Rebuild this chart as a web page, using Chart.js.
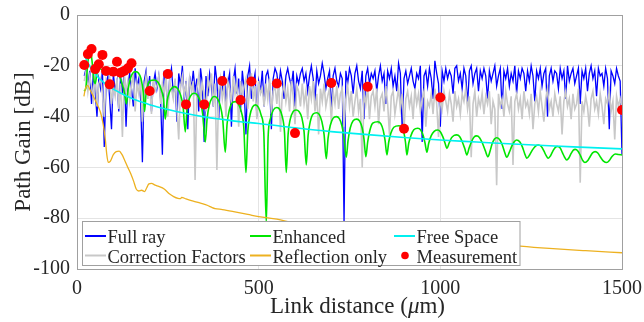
<!DOCTYPE html>
<html>
<head>
<meta charset="utf-8">
<script src="https://cdn.jsdelivr.net/npm/chart.js@4.4.1/dist/chart.umd.min.js"></script>
<style>
  html, body { margin: 0; padding: 0; background: #fff; }
  #wrap { width: 644px; height: 322px; }
</style>
</head>
<body>
<div id="wrap"><canvas id="pathGainChart" width="644" height="322"></canvas></div>
<script>
const serif = "'Liberation Serif', serif";

// Full ray / correction factors are sampled every 5 um starting at 20 um
const noiseStart = 20;
const noiseStep = 5;

const fullRay = [
  -24,-21,-28,-22,-35,-23,-30,-40,-25,-29,-22,-52,-27,-24,-33,-45,-23,-30,-26,-38,
  -24,-31,-22,-44,-27,-23,-29,-36,-21,-28,-25,-33,-58,-26,-22,-30,-24,-38,-27,-23,
  -29,-24,-33,-55,-22,-27,-37,-25,-21,-31,-26,-42,-23,-28,-20,-34,-26,-45,-24,-29,
  -22,-30,-25,-38,-21,-27,-50,-24,-32,-23,-28,-36,-20,-26,-41,-24,-30,-22,-35,-27,
  -23,-44,-26,-21,-31,-25,-38,-22,-29,-47,-24,-20,-33,-27,-23,-40,-26,-30,-22,-36,
  -24,-22,-27,-45,-25,-21,-23,-29,-22,-26,-33,-24,-21,-25,-28,-22,-36,-24,-27,-23,
  -21,-26,-23,-30,-24,-20,-25,-34,-22,-27,-24,-19,-23,-29,-25,-22,-38,-24,-21,-26,
  -28,-23,-25,-82,-22,-27,-21,-24,-31,-23,-20,-26,-29,-22,-41,-24,-21,-27,-23,-25,
  -22,-30,-24,-20,-26,-23,-35,-22,-25,-21,-28,-24,-30,-19,-23,-45,-25,-22,-27,-24,
  -21,-26,-29,-23,-25,-20,-50,-24,-22,-28,-21,-25,-33,-18,-23,-27,-44,-22,-26,-21,
  -25,-22,-24,-31,-21,-20,-26,-23,-29,-21,-24,-35,-22,-20,-27,-23,-21,-30,-22,-25,
  -21,-24,-33,-22,-26,-23,-20,-28,-24,-21,-37,-22,-25,-21,-28,-23,-26,-20,-31,-22,
  -25,-21,-23,-30,-22,-26,-20,-24,-34,-22,-25,-21,-28,-23,-21,-40,-24,-21,-26,-22,
  -23,-29,-21,-25,-22,-33,-20,-26,-23,-21,-27,-24,-21,-35,-22,-25,-21,-30,-23,-20,
  -25,-22,-32,-21,-24,-23,-28,-21,-25,-45,-22,-24,-27,-21,-24,-26,-55
];

const correctionFactors = [
  -26,-22,-30,-24,-28,-33,-23,-36,-27,-25,-31,-40,-26,-29,-24,-35,-28,-32,-25,-37,
  -27,-48,-24,-30,-26,-34,-28,-23,-38,-27,-31,-25,-42,-29,-24,-33,-27,-39,-25,-30,
  -28,-24,-35,-27,-31,-23,-40,-26,-29,-33,-25,-37,-49,-28,-24,-32,-27,-36,-25,-30,
  -26,-65,-29,-24,-34,-27,-31,-38,-25,-29,-23,-36,-27,-61,-30,-25,-33,-28,-40,-26,
  -29,-35,-24,-31,-27,-44,-26,-32,-28,-25,-37,-30,-23,-34,-28,-41,-26,-31,-29,-36,
  -27,-33,-25,-39,-30,-28,-35,-26,-46,-31,-27,-34,-29,-38,-26,-32,-43,-28,-30,-36,
  -27,-35,-30,-41,-28,-33,-26,-38,-31,-47,-29,-34,-27,-36,-32,-29,-42,-30,-35,-28,
  -37,-31,-29,-44,-33,-28,-36,-30,-40,-34,-29,-38,-33,-60,-31,-35,-28,-41,-32,-30,
  -36,-29,-43,-33,-31,-38,-28,-35,-47,-32,-30,-39,-34,-29,-37,-31,-45,-33,-30,-36,
  -32,-41,-29,-35,-31,-38,-33,-30,-44,-34,-36,-31,-39,-29,-35,-48,-32,-37,-30,-34,
  -38,-31,-35,-42,-30,-36,-33,-39,-31,-34,-29,-37,-32,-56,-35,-30,-40,-33,-36,-31,
  -39,-32,-35,-30,-43,-34,-37,-67,-31,-36,-33,-40,-30,-35,-38,-32,-59,-34,-31,-37,
  -33,-41,-30,-36,-34,-39,-31,-45,-35,-32,-38,-30,-36,-42,-33,-29,-37,-34,-40,-31,
  -35,-38,-32,-47,-34,-30,-36,-33,-41,-31,-37,-35,-29,-66,-34,-38,-32,-36,-44,-33,
  -30,-37,-34,-39,-31,-36,-43,-33,-35,-30,-38,-34,-49,-32,-36,-33,-37
];

const enhancedX = [
  19,24,29,33,38,42,46,50,55,62,72,80,90,100,110,118,126,131,136,141,147,153,161,169,176,182,186,190,196,203,
  213,223,231,238,243,248,254,261,268,277,285,292,298,303,309,316,323,331,339,346,353,358,364,371,378,386,394,401,408,413,
  419,426,436,444,452,459,465,470,476,483,491,499,507,514,521,526,532,540,550,558,565,571,576,581,587,595,603,611,619,625,
  631,636,642,650,659,667,674,680,686,691,697,705,714,722,729,735,741,746,752,760,770,778,785,790,795,800,806,814,828,836,
  843,848,853,858,864,872,886,894,900,904,908,913,919,927,938,946,953,958,963,968,975,983,993,1000,1007,1013,1018,1024,1031,1038,
  1045,1053,1060,1067,1073,1079,1086,1093,1100,1108,1116,1124,1131,1137,1143,1149,1155,1163,1170,1177,1183,1190,1197,1204,1210,1219,1226,1232,1238,1246,
  1254,1262,1270,1278,1285,1291,1297,1303,1310,1316,1322,1330,1336,1342,1348,1354,1360,1366,1371,1379,1386,1392,1398,1406,1413,1419,1426,1434,1441,1449,
  1458,1465,1472,1481,1490,1500
];
const enhancedY = [
  -30,-29,-20,-15.5,-15,-19,-25,-27,-23,-21,-22,-22.5,-21.5,-21.5,-22.5,-24.5,-28,-31,-35,-29,-25,-23,-22.3,-22.8,-25,-30,-38,-31,-27,-25.8,
  -25.6,-26.5,-29,-33,-41,-34,-30.5,-28.8,-28.2,-29,-31.5,-36,-46,-37,-33,-31.2,-30.8,-31.5,-34,-39,-50,-41,-35.5,-32.8,-32.1,-32.8,-35.5,-41,-54,-43,
  -37.5,-34.8,-34.1,-35,-38,-44,-62,-46,-39.5,-36.3,-35.4,-36.3,-39.5,-46,-82,-48,-41,-37.5,-36.4,-37.2,-40,-46,-62,-47,-41,-38,-37.4,-38,-40.5,-46,
  -59,-47.5,-42,-39,-38.5,-39.2,-42,-47,-56.6,-48.5,-43.5,-40.6,-40,-40.8,-43.5,-48.5,-56,-49.5,-44.5,-41.6,-41,-41.8,-44.5,-49,-55.8,-50,-45.5,-42.6,-42,-42.8,
  -45.5,-49.5,-55.1,-50,-46.5,-44.2,-43.6,-44.3,-46.5,-50,-55.1,-50.5,-47.5,-45.2,-44.6,-45.3,-47.5,-50.5,-54,-50.5,-47.5,-45.8,-45.3,-46,-48,-50.5,-52.5,-50.5,-48.3,-47.4,
  -47.2,-47.8,-49.8,-52.5,-55.1,-52.5,-49.8,-48,-47.6,-48.3,-50.5,-53.5,-55.8,-53.5,-50.5,-48.8,-48.3,-49,-51,-54,-56,-54,-51.5,-49.8,-49.2,-50,-52,-54.5,-56.4,-55,
  -53,-51.6,-51.2,-51.8,-53.5,-55.3,-56.4,-55.5,-53.5,-52.2,-51.8,-52.4,-54.2,-56,-57.1,-56.2,-54.5,-53.2,-52.9,-53.6,-55.5,-57.3,-58.1,-57.3,-55.6,-54.3,-53.8,-54.4,-56,-57.5,
  -58.1,-57.3,-55.8,-54.7,-54.9,-55.1
];

const freeSpaceX = [20,25,30,40,50,60,70,80,92,100,125,150,175,200,250,300,350,400,450,500,600,700,800,900,1000,1100,1200,1300,1400,1500];
const freeSpaceY = [-15.5,-17.3,-18.8,-21.3,-23.2,-24.8,-26.1,-27.3,-28.5,-29.2,-31.1,-32.8,-34.1,-35.3,-37.2,-38.8,-40.1,-41.1,-42,-42.7,-44.4,-45.9,-47.1,-48.2,-49.2,-50,-50.8,-51.5,-52.1,-52.7];

const reflectionX = [19,24,30,36,45,55,65,72,78,82,86,92,100,108,116,124,132,140,148,156,163,170,178,186,192,198,205,215,225,240,
  255,266,278,285,288,300,320,340,360,372,380,400,431,470,500,550,596,650,700,800,900,1000,1100,1220,1300,1400,1500];
const reflectionY = [-32,-28.5,-27.8,-29.5,-32,-35,-38.5,-43,-49,-55,-58,-57.5,-55,-53.8,-53.6,-55,-57.5,-60,-62.5,-65.5,-68.5,-69.3,-69,-69.5,-68,-66.5,-66.3,-67,-67.5,-68.5,
  -70.5,-71.5,-72.2,-72.3,-71.8,-72.4,-73.3,-74.1,-75,-75.8,-76.2,-76.6,-77.4,-78.5,-79.4,-80.4,-81.8,-83,-84,-85.8,-87.2,-88.3,-89.3,-91,-91.9,-92.8,-93.6];

const measX = [20,30,40,50,60,70,80,90,100,110,120,130,140,150,200,250,300,350,400,450,480,550,600,700,800,900,1000,1500];
const measY = [-19.7,-15.4,-13.4,-21.3,-19.4,-15.7,-22,-27.3,-22.3,-18.4,-22.7,-22,-21,-19,-29.9,-23.2,-35.2,-35.2,-26,-33.5,-26.2,-27,-46.5,-26.8,-28.2,-44.8,-32.5,-37.4];

const xTicks = [0, 500, 1000, 1500];
const yTicks = [-100, -80, -60, -40, -20, 0];

const gridPts = vals => vals.map((v, i) => ({ x: noiseStart + noiseStep * i, y: v }));
const pairPts = (xs, ys) => xs.map((x, i) => ({ x, y: ys[i] }));

const legendRows = [
  { label: 'Full ray', color: '#0000ff', col: 0, row: 0 },
  { label: 'Correction Factors', color: '#c8c8c8', col: 0, row: 1 },
  { label: 'Enhanced', color: '#00e600', col: 1, row: 0 },
  { label: 'Reflection only', color: '#edb120', col: 1, row: 1 },
  { label: 'Free Space', color: '#00f0f0', col: 2, row: 0 },
  { label: 'Measurement', color: '#ff0000', col: 2, row: 1, dot: true }
];

Chart.defaults.font.family = serif;

const decorations = {
  id: 'decorations',
  afterDraw(chart) {
    const { ctx, chartArea: a } = chart;
    ctx.save();

    // axes box
    ctx.strokeStyle = '#a0a0a0';
    ctx.lineWidth = 1;
    ctx.strokeRect(Math.round(a.left) + 0.5, Math.round(a.top) + 0.5,
      Math.round(a.right - a.left), Math.round(a.bottom - a.top));

    ctx.fillStyle = '#262626';

    // y title
    ctx.save();
    ctx.font = `23px ${serif}`;
    ctx.translate(30, (a.top + a.bottom) / 2);
    ctx.rotate(-Math.PI / 2);
    ctx.textAlign = 'center';
    ctx.textBaseline = 'alphabetic';
    ctx.fillText('Path Gain [dB]', 0, 0);
    ctx.restore();

    // x title with italic mu
    const parts = [
      { t: 'Link distance (', f: `23px ${serif}` },
      { t: 'μ', f: `italic 23px ${serif}` },
      { t: 'm)', f: `23px ${serif}` }
    ];
    let total = 0;
    parts.forEach(p => { ctx.font = p.f; p.w = ctx.measureText(p.t).width; total += p.w; });
    let tx = 357.5 - total / 2;
    ctx.textAlign = 'left';
    ctx.textBaseline = 'alphabetic';
    parts.forEach(p => { ctx.font = p.f; ctx.fillText(p.t, tx, 313); tx += p.w; });

    // legend box
    const lx = 82.5, ly = 221.5, lw = 437.5, lh = 44;
    ctx.fillStyle = '#ffffff';
    ctx.fillRect(lx, ly, lw, lh);
    ctx.strokeStyle = '#a0a0a0';
    ctx.strokeRect(lx, ly, lw, lh);

    const colX = [85, 250, 394];
    const lineY = [236, 255.5];
    const baseY = [242.5, 262.5];
    ctx.font = `18.5px ${serif}`;
    legendRows.forEach(item => {
      const x0 = colX[item.col];
      if (item.dot) {
        ctx.fillStyle = item.color;
        ctx.beginPath();
        ctx.arc(x0 + 11, lineY[item.row], 3.8, 0, Math.PI * 2);
        ctx.fill();
      } else {
        ctx.strokeStyle = item.color;
        ctx.lineWidth = 2;
        ctx.beginPath();
        ctx.moveTo(x0, lineY[item.row]);
        ctx.lineTo(x0 + 21, lineY[item.row]);
        ctx.stroke();
      }
      ctx.fillStyle = '#262626';
      ctx.fillText(item.label, x0 + 22.5, baseY[item.row]);
    });

    ctx.restore();
  }
};

const lineSet = (label, data, color, width, order, extra = {}) => Object.assign({
  label, data, order,
  showLine: true,
  borderColor: color,
  backgroundColor: color,
  borderWidth: width,
  pointRadius: 0,
  pointHoverRadius: 0,
  tension: 0
}, extra);

new Chart(document.getElementById('pathGainChart'), {
  type: 'scatter',
  data: {
    datasets: [
      {
        label: 'Measurement',
        data: pairPts(measX, measY),
        order: 0,
        pointRadius: 5,
        pointBackgroundColor: '#ff0000',
        pointBorderColor: '#ff0000',
        pointBorderWidth: 0,
        showLine: false
      },
      lineSet('Free Space', pairPts(freeSpaceX, freeSpaceY), '#00f0f0', 1.6, 1, { cubicInterpolationMode: 'monotone' }),
      lineSet('Reflection only', pairPts(reflectionX, reflectionY), '#edb120', 1.3, 2, { cubicInterpolationMode: 'monotone' }),
      lineSet('Enhanced', pairPts(enhancedX, enhancedY), '#00e600', 1.6, 3, { cubicInterpolationMode: 'monotone' }),
      lineSet('Correction Factors', gridPts(correctionFactors), '#c8c8c8', 1.6, 4),
      lineSet('Full ray', gridPts(fullRay), '#0000ff', 1.3, 5)
    ]
  },
  options: {
    responsive: false,
    animation: false,
    devicePixelRatio: 1,
    events: [],
    layout: { padding: { top: 15, right: 22, left: 0, bottom: 0 } },
    plugins: {
      legend: { display: false },
      tooltip: { enabled: false }
    },
    scales: {
      x: {
        type: 'linear',
        min: 0,
        max: 1500,
        afterFit: s => { s.height = 53; s.paddingLeft = 0; s.paddingRight = 0; },
        afterBuildTicks: s => { s.ticks = xTicks.map(v => ({ value: v })); },
        grid: { color: '#e4e4e4', drawTicks: false },
        border: { display: false },
        ticks: {
          padding: 8, color: '#262626', maxRotation: 0,
          font: { family: serif, size: 20 },
          callback: v => String(v)
        }
      },
      y: {
        min: -100,
        max: 0,
        afterFit: s => { s.width = 77; s.paddingTop = 0; s.paddingBottom = 0; },
        afterBuildTicks: s => { s.ticks = yTicks.map(v => ({ value: v })); },
        grid: { color: '#e4e4e4', drawTicks: false },
        border: { display: false },
        ticks: {
          padding: 7, color: '#262626',
          font: { family: serif, size: 20 },
          callback: v => String(v)
        }
      }
    }
  },
  plugins: [decorations]
});
</script>
</body>
</html>
